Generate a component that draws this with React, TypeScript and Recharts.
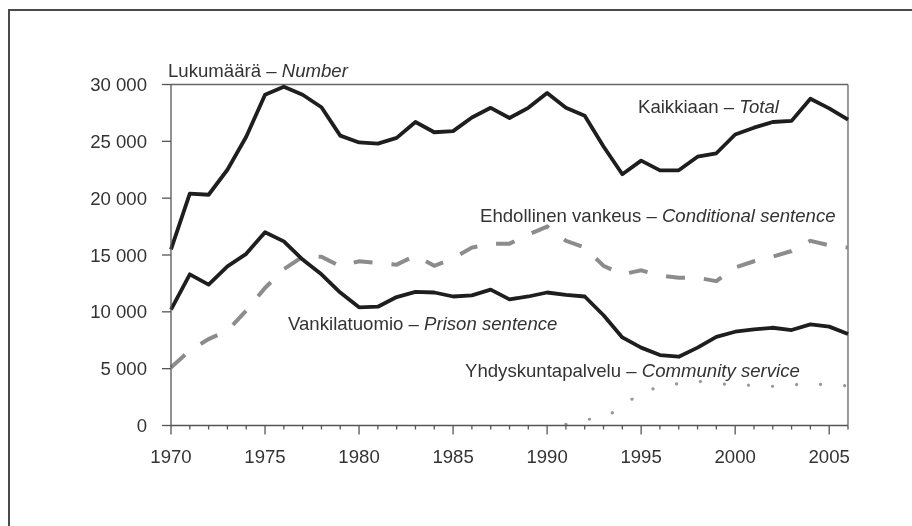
import { LineChart, Line, XAxis, YAxis, ReferenceLine } from 'recharts';

// Tuomitut rangaistukset 1970–2006
const years = [
  1970, 1971, 1972, 1973, 1974, 1975, 1976, 1977, 1978, 1979,
  1980, 1981, 1982, 1983, 1984, 1985, 1986, 1987, 1988, 1989,
  1990, 1991, 1992, 1993, 1994, 1995, 1996, 1997, 1998, 1999,
  2000, 2001, 2002, 2003, 2004, 2005, 2006,
];

const total = [
  15500, 20400, 20300, 22500, 25400, 29100, 29800, 29100, 28000, 25500,
  24900, 24800, 25300, 26700, 25800, 25900, 27100, 27950, 27050, 27950,
  29250, 27950, 27250, 24550, 22100, 23300, 22450, 22450, 23650, 23950,
  25600, 26200, 26700, 26800, 28750, 27900, 26900,
];

const prison = [
  10200, 13300, 12400, 14000, 15100, 17000, 16200, 14600, 13300, 11700,
  10400, 10450, 11300, 11750, 11700, 11350, 11450, 11950, 11100, 11350,
  11700, 11500, 11350, 9700, 7750, 6850, 6200, 6050, 6850, 7800,
  8250, 8450, 8600, 8400, 8900, 8700, 8050,
];

const conditional = [
  5100, 6600, 7600, 8350, 10100, 12100, 13750, 14850, 14850, 14000,
  14450, 14300, 14150, 14950, 14050, 14700, 15650, 16000, 16000, 16800,
  17500, 16250, 15650, 14050, 13300, 13650, 13200, 13000, 13000, 12700,
  13900, 14450, 14850, 15350, 16250, 15850, 15650,
];

const community = [
  null, null, null, null, null, null, null, null, null, null,
  null, null, null, null, null, null, null, null, null, null,
  null, 100, 500, 700, 1600, 3000, 3350, 3700, 3900, 3700,
  3550, 3550, 3450, 3550, 3700, 3550, 3500,
];

const yTicks = [0, 5000, 10000, 15000, 20000, 25000, 30000];

const rows = years.map((year, i) => ({
  year,
  total: total[i],
  prison: prison[i],
  conditional: conditional[i],
  community: community[i],
}));

const FONT = '"Liberation Sans", Arial, sans-serif';
const TXT = '#333';
const AXIS = '#555';

const fmt = (v: number) => String(v).replace(/\B(?=(\d{3})+(?!\d))/g, ' ');

const YearTick = (props: any) => {
  const { x, y, payload } = props;
  const major = payload.value % 5 === 0;
  return (
    <g>
      <line x1={x} x2={x} y1={y} y2={y + (major ? 9 : 4)} stroke={AXIS} strokeWidth={1.3} />
      {major && (
        <text x={x} y={y + 37.5} textAnchor="middle" fill={TXT} fontSize={18.6} fontFamily={FONT}>
          {payload.value}
        </text>
      )}
    </g>
  );
};

export default function App() {
  return (
    <div style={{ position: 'relative', width: 896, height: 510 }}>
      {/* outer frame, only left and top edges are visible in the crop */}
      <svg width={912} height={526} style={{ position: 'fixed', left: 0, top: 0, pointerEvents: 'none' }}>
        <path d="M9 526 V10 H912" fill="none" stroke="#4a4a4a" strokeWidth={2} />
      </svg>
      <LineChart width={896} height={510} data={rows} margin={{ top: 76.5, right: 56, left: 0, bottom: 52.5 }}>
        <XAxis
          dataKey="year"
          type="number"
          domain={[1970, 2006]}
          ticks={years}
          interval={0}
          height={40}
          tickSize={0}
          tickMargin={0}
          tickLine={false}
          tick={<YearTick />}
          axisLine={{ stroke: AXIS, strokeWidth: 1.3 }}
        />
        <YAxis
          type="number"
          domain={[0, 30000]}
          ticks={yTicks}
          width={163}
          tickSize={9}
          tickMargin={15}
          tickFormatter={fmt}
          tick={{ fill: TXT, fontSize: 18.6, fontFamily: FONT }}
          tickLine={{ stroke: AXIS, strokeWidth: 1.3 }}
          axisLine={{ stroke: AXIS, strokeWidth: 1.3 }}
        />
        <ReferenceLine y={30000} stroke="#666" strokeWidth={1.3} />
        <ReferenceLine x={2006} stroke="#666" strokeWidth={1.3} />
        <Line dataKey="conditional" stroke="#8c8c8c" strokeWidth={4} strokeDasharray="19 19" dot={false} isAnimationActive={false} />
        <Line dataKey="community" stroke="#9a9a9a" strokeWidth={3.2} strokeDasharray="0.1 24" strokeLinecap="round" dot={false} isAnimationActive={false} />
        <Line dataKey="prison" stroke="#1e1e1e" strokeWidth={3.8} strokeLinejoin="round" dot={false} isAnimationActive={false} />
        <Line dataKey="total" stroke="#1e1e1e" strokeWidth={3.8} strokeLinejoin="round" dot={false} isAnimationActive={false} />
      </LineChart>
      <svg width={896} height={510} style={{ position: 'absolute', left: 0, top: 0, pointerEvents: 'none' }}>
        <g fill={TXT} fontSize={18.6} fontFamily={FONT}>
          <text x={160} y={69}>Lukumäärä – <tspan fontStyle="italic">Number</tspan></text>
          <text x={630} y={105}>Kaikkiaan – <tspan fontStyle="italic">Total</tspan></text>
          <text x={472} y={214}>Ehdollinen vankeus – <tspan fontStyle="italic">Conditional sentence</tspan></text>
          <text x={280} y={321.5}>Vankilatuomio – <tspan fontStyle="italic">Prison sentence</tspan></text>
          <text x={457} y={368.5}>Yhdyskuntapalvelu – <tspan fontStyle="italic">Community service</tspan></text>
        </g>
      </svg>
    </div>
  );
}
